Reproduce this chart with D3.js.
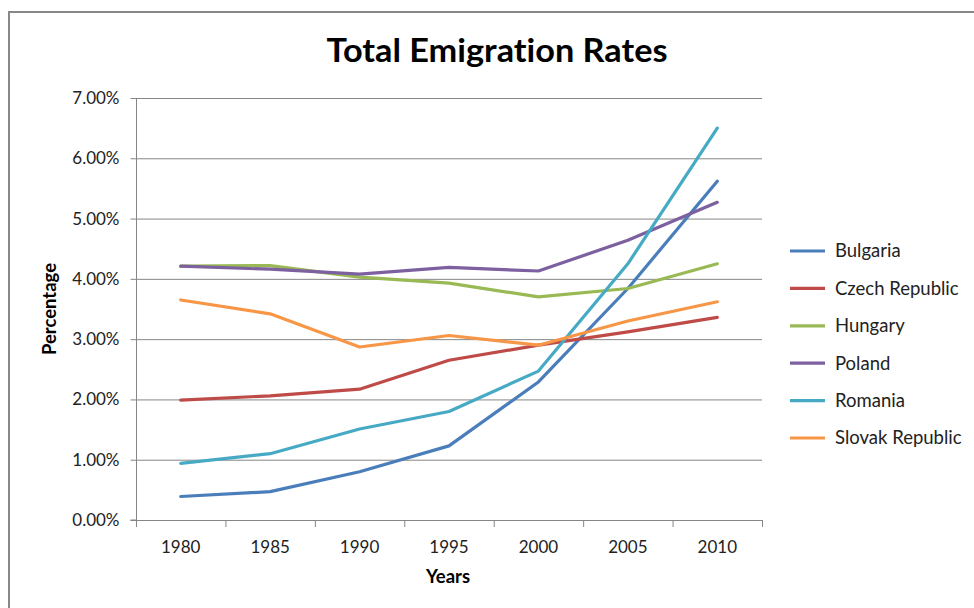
<!DOCTYPE html>
<html><head><meta charset="utf-8">
<script src="https://cdn.jsdelivr.net/npm/d3@7"></script>
<style>body{margin:0;background:#fff}svg{display:block}text{font-variant-ligatures:none}</style>
</head><body>
<svg id="c" width="974" height="608"></svg>
<script>
const years = ["1980","1985","1990","1995","2000","2005","2010"];
const countries = ["Bulgaria","Czech Republic","Hungary","Poland","Romania","Slovak Republic"];
const bulgaria = [0.39,0.47,0.80,1.23,2.29,3.84,5.62];
const czech    = [1.99,2.06,2.17,2.65,2.90,3.12,3.36];
const hungary  = [4.21,4.22,4.03,3.93,3.70,3.84,4.25];
const poland   = [4.21,4.16,4.08,4.19,4.13,4.64,5.27];
const romania  = [0.94,1.10,1.51,1.80,2.47,4.25,6.50];
const slovak   = [3.65,3.42,2.87,3.06,2.90,3.30,3.62];
const yTicks = [0,1,2,3,4,5,6,7];
const colors = ["#4A7EBB","#BE4B48","#98B954","#7D60A0","#46AAC5","#F79646"];
const seriesValues = [bulgaria,czech,hungary,poland,romania,slovak];

const svg = d3.select("#c");
const font = "Lato, 'Open Sans', sans-serif";
const pL=136, pR=762, pT=98, pB=520;

// outer border
svg.append("rect").attr("x",9).attr("y",12).attr("width",1000).attr("height",700)
  .attr("fill","none").attr("stroke","#888").attr("stroke-width",2);

const x = d3.scaleBand().domain(years).range([pL,pR]);
const y = d3.scaleLinear().domain([0,7]).range([pB,pT]);

// gridlines
svg.append("g").selectAll("line").data(yTicks.filter(d=>d>0)).join("line")
  .attr("x1",pL).attr("x2",pR).attr("y1",d=>y(d)+0.5).attr("y2",d=>y(d)+0.5)
  .attr("stroke","#868686").attr("stroke-width",1);

// y axis
const ya = svg.append("g").attr("transform",`translate(${pL+0.5},0)`)
  .call(d3.axisLeft(y).tickValues(yTicks).tickSize(6).tickPadding(11).tickFormat(d=>d.toFixed(2)+"%"));
ya.select(".domain").attr("stroke","#868686").attr("d",`M-6,${y(0)}H0V${y(7)}`);
ya.selectAll(".tick line").attr("stroke","#868686");
ya.selectAll("text").attr("font-family",font).attr("font-size",17).attr("fill","#222");

// x axis
const xa = svg.append("g").attr("transform",`translate(0,${pB+0.5})`)
  .call(d3.axisBottom(x).tickSize(0).tickPadding(20));
xa.select(".domain").attr("stroke","#868686").attr("d",`M${pL},0H${pR}`);
xa.selectAll("text").attr("font-family",font).attr("font-size",17).attr("fill","#222");
const bounds = years.map(yy=>x(yy)).concat([pR]);
svg.append("g").selectAll("line").data(bounds).join("line")
  .attr("x1",d=>d+0.5).attr("x2",d=>d+0.5).attr("y1",pB).attr("y2",pB+7)
  .attr("stroke","#868686");

// lines
const line = d3.line().x((d,i)=>x(years[i])+x.bandwidth()/2).y(d=>y(d));
svg.append("g").selectAll("path").data(seriesValues).join("path")
  .attr("d",line).attr("fill","none").attr("stroke",(d,i)=>colors[i])
  .attr("stroke-width",3.2).attr("stroke-linejoin","round").attr("stroke-linecap","round");

// title
svg.append("text").attr("x",497).attr("y",62).attr("text-anchor","middle")
  .attr("font-family",font).attr("font-weight","bold").attr("font-size",33)
  .attr("textLength",341).attr("lengthAdjust","spacingAndGlyphs").attr("fill","#000")
  .text("Total Emigration Rates");

// axis titles
svg.append("text").attr("transform","translate(56,309) rotate(-90)").attr("text-anchor","middle")
  .attr("font-family",font).attr("font-weight","bold").attr("font-size",18.5).attr("fill","#000")
  .text("Percentage");
svg.append("text").attr("x",448).attr("y",583).attr("text-anchor","middle")
  .attr("font-family",font).attr("font-weight","bold").attr("font-size",18.5).attr("fill","#000")
  .text("Years");

// legend
const lg = svg.append("g").selectAll("g").data(countries).join("g")
  .attr("transform",(d,i)=>`translate(790,${251+i*37.4})`);
lg.append("line").attr("x1",0).attr("x2",35).attr("y1",0).attr("y2",0)
  .attr("stroke",(d,i)=>colors[i]).attr("stroke-width",3.2);
lg.append("text").attr("x",45).attr("y",0).attr("dy","0.35em")
  .attr("font-family",font).attr("font-size",18.5).attr("fill","#222").text(d=>d);
</script>
</body></html>
